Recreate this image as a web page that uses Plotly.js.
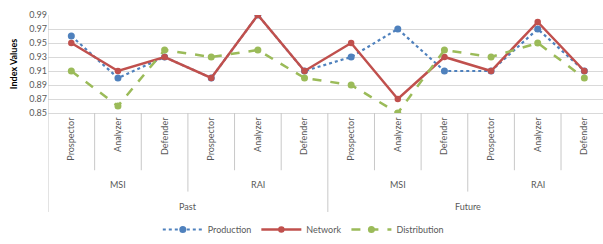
<!DOCTYPE html>
<html><head><meta charset="utf-8">
<script src="https://cdn.plot.ly/plotly-3.0.1.min.js"></script>
<style>html,body{margin:0;padding:0;background:#fff}#c{width:603px;height:244px}</style>
</head><body><div id="c"></div>
<script>
const periods = ["Past","Past","Past","Past","Past","Past","Future","Future","Future","Future","Future","Future"];
const indices = ["MSI","MSI","MSI","RAI","RAI","RAI","MSI","MSI","MSI","RAI","RAI","RAI"];
const categories = ["Prospector","Analyzer","Defender","Prospector","Analyzer","Defender","Prospector","Analyzer","Defender","Prospector","Analyzer","Defender"];
const production = [0.96,0.90,0.93,0.90,0.99,0.91,0.93,0.97,0.91,0.91,0.97,0.91];
const network = [0.95,0.91,0.93,0.90,0.99,0.91,0.95,0.87,0.93,0.91,0.98,0.91];
const distribution = [0.91,0.86,0.94,0.93,0.94,0.90,0.89,0.85,0.94,0.93,0.95,0.90];

const xs = categories.map((c,i)=>i);
const font = "Lato, 'Open Sans', sans-serif";
const gray = "#595959";
const sepColor = "#c8c8c8";

const traces = [
  {x:xs,y:production,name:"Production",mode:"lines+markers",
   line:{color:"#4F81BD",width:2.2,dash:"dot"},marker:{color:"#4F81BD",size:7}},
  {x:xs,y:network,name:"Network",mode:"lines+markers",
   line:{color:"#C0504D",width:2.5},marker:{color:"#C0504D",size:6.5}},
  {x:xs,y:distribution,name:"Distribution",mode:"lines+markers",
   line:{color:"#9BBB59",width:2.5,dash:"dash"},marker:{color:"#9BBB59",size:7}}
];

const H = 101; // plot height px
const py = px => -(px-116)/H;

const shapes = [];
const annotations = [];
for (let i=1;i<categories.length;i++){
  let y1 = py(175);
  if (periods[i]!==periods[i-1]) y1 = py(218);
  else if (indices[i]!==indices[i-1]) y1 = py(197);
  shapes.push({type:"line",xref:"x",yref:"paper",x0:i-0.5,x1:i-0.5,y0:0,y1:y1,line:{color:sepColor,width:1}});
}
shapes.push({type:"line",xref:"x",yref:"paper",x0:-0.5,x1:-0.5,y0:1,y1:py(218),line:{color:sepColor,width:1}});

function groups(keyFn){
  const out=[]; let start=0;
  for(let i=1;i<=categories.length;i++){
    if(i===categories.length || keyFn(i)!==keyFn(start)){ out.push([start,i-1]); start=i; }
  }
  return out;
}
groups(i=>periods[i]+"|"+indices[i]).forEach(([a,b])=>{
  annotations.push({xref:"x",yref:"paper",x:(a+b)/2,y:py(190),text:indices[a],showarrow:false,
    font:{family:font,size:9,color:gray},yanchor:"middle"});
});
groups(i=>periods[i]).forEach(([a,b])=>{
  annotations.push({xref:"x",yref:"paper",x:(a+b)/2,y:py(212),text:periods[a],showarrow:false,
    font:{family:font,size:9,color:gray},yanchor:"middle"});
});

const layout = {
  width:603,height:244,
  margin:{l:48,r:0,t:15,b:128},
  paper_bgcolor:"#fff",plot_bgcolor:"#fff",
  showlegend:true,
  legend:{orientation:"h",x:0.46,xanchor:"center",y:py(237),yanchor:"middle",
    font:{family:font,size:9,color:gray},itemwidth:40,tracegroupgap:0},
  xaxis:{range:[-0.5,11.4],tickvals:xs,ticktext:categories,tickangle:-90,
    tickfont:{family:font,size:9,color:gray},showgrid:false,zeroline:false,
    showline:true,linecolor:"#d9d9d9",ticks:"",fixedrange:true},
  yaxis:{range:[0.85,0.99],dtick:0.02,tick0:0.85,tickformat:".2f",
    tickfont:{family:font,size:9,color:gray},gridcolor:"#d9d9d9",zeroline:false,
    showline:false,ticks:"",
    title:{text:"<b>Index Values</b>",font:{family:font,size:9,color:"#000"},standoff:10}},
  shapes:shapes,annotations:annotations
};
Plotly.newPlot("c",traces,layout,{staticPlot:true});
</script></body></html>
